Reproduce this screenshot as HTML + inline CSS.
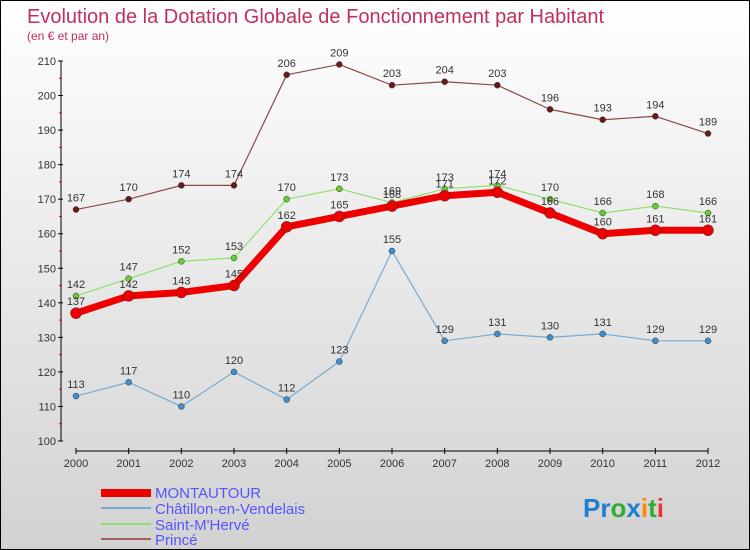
<!DOCTYPE html>
<html><head><meta charset="utf-8"><style>
body{margin:0}
#c{width:748px;height:548px;border:1px solid #000;background:linear-gradient(#fff,#d2d2d2);position:relative;overflow:hidden;font-family:"Liberation Sans",sans-serif}
</style></head><body>
<div id="c">
<svg id="s" width="748" height="548" xmlns="http://www.w3.org/2000/svg" style="position:absolute;left:0;top:0">
<text x="26" y="22" font-size="20" fill="#c0305a">Evolution de la Dotation Globale de Fonctionnement par Habitant</text>
<text x="26" y="39" font-size="12" fill="#c0305a">(en € et par an)</text>
<g id="axes"></g><g id="series"></g>
<g>
<rect x="100" y="488" width="50" height="8" fill="#e00"/>
<text x="154" y="497" font-size="15" fill="#55f">MONTAUTOUR</text>
<line x1="100" y1="507" x2="150" y2="507" stroke="#7aaad0" stroke-width="2"/>
<text x="154" y="513" font-size="15" fill="#55f">Châtillon-en-Vendelais</text>
<line x1="100" y1="523" x2="150" y2="523" stroke="#90e070" stroke-width="2"/>
<text x="154" y="529" font-size="15" fill="#55f">Saint-M'Hervé</text>
<line x1="100" y1="538" x2="150" y2="538" stroke="#a06060" stroke-width="2"/>
<text x="154" y="544" font-size="15" fill="#55f">Princé</text>
</g>
<text x="582" y="516" font-size="26" font-weight="bold"><tspan fill="#1e7fd0">Pr</tspan><tspan fill="#3a3">o</tspan><tspan fill="#1e7fd0">x</tspan><tspan fill="#f80">i</tspan><tspan fill="#3a3">t</tspan><tspan fill="#e33">i</tspan></text>
</svg>
</div>
<script>
const years=[2000,2001,2002,2003,2004,2005,2006,2007,2008,2009,2010,2011,2012];
const montautour=[137,142,143,145,162,165,168,171,172,166,160,161,161];
const chatillon=[113,117,110,120,112,123,155,129,131,130,131,129,129];
const saintMHerve=[142,147,152,153,170,173,169,173,174,170,166,168,166];
const prince=[167,170,174,174,206,209,203,204,203,196,193,194,189];
const yTicks=[100,110,120,130,140,150,160,170,180,190,200,210];
const NS="http://www.w3.org/2000/svg";
const X=i=>75+i*(707-75)/(years.length-1);
const Y=v=>440-(v-100)*(380/110);
function mk(t,a,p){const e=document.createElementNS(NS,t);for(const k in a)e.setAttribute(k,a[k]);p.appendChild(e);return e;}
const ax=document.getElementById('axes');
let l=mk('line',{x1:60,y1:Y(210),x2:60,y2:Y(100),stroke:'#000'},ax);


l=mk('line',{x1:75,y1:450,x2:707,y2:450,stroke:'#000'},ax);


yTicks.forEach(v=>{
 mk('line',{x1:57,y1:Y(v),x2:62,y2:Y(v),stroke:'#000'},ax);
 const t=mk('text',{x:55,y:Y(v)+4,'font-size':11,fill:'#333','text-anchor':'end'},ax);t.textContent=v;
 
 
 if(v<210)mk('line',{x1:58,y1:Y(v+5),x2:61,y2:Y(v+5),stroke:'#e00'},ax);
});
years.forEach((y,i)=>{
 mk('line',{x1:X(i),y1:447,x2:X(i),y2:453,stroke:'#000'},ax);
 const t=mk('text',{x:X(i),y:466,'font-size':11,fill:'#333','text-anchor':'middle'},ax);t.textContent=y;
 
 
});
const sg=document.getElementById('series');
function draw(name,vals,color,w,r,dot){
 const g=mk('g',{},sg);
 
 
 const p=mk('polyline',{points:vals.map((v,i)=>X(i)+','+Y(v)).join(' '),fill:'none',stroke:color,'stroke-width':w,'stroke-linejoin':'round'},g);
 
 
 vals.forEach((v,i)=>{
  const c=mk('circle',{cx:X(i),cy:Y(v),r:r,fill:dot,stroke:'#333','stroke-width':0.5},g);
  
  
  const t=mk('text',{x:X(i),y:Y(v)-8,'font-size':11,fill:'#333','text-anchor':'middle'},g);t.textContent=v;
  
  
 });
}
draw('chatillon',chatillon,'#7aaad0',1.2,3,'#3d8fd0');
draw('saint-mherve',saintMHerve,'#90e070',1.2,3,'#6c3');
draw('prince',prince,'#8a4a4a',1.2,3,'#6a1a1a');
draw('montautour',montautour,'#e00',7,5.5,'#e00');
</script>
</body></html>
